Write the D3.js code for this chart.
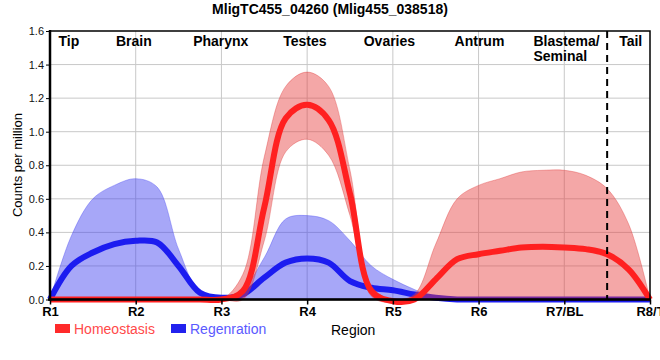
<!DOCTYPE html>
<html><head><meta charset="utf-8">
<script src="https://cdn.jsdelivr.net/npm/d3@7"></script>
<style>
body{margin:0;background:#fff;}
text{font-family:"Liberation Sans Narrow","Arial Narrow","Liberation Sans",Arial,sans-serif;}
</style></head>
<body><svg id="c" width="660" height="360"></svg>
<script>
const title = "MligTC455_04260 (Mlig455_038518)";
const regions = ["R1","R2","R3","R4","R5","R6","R7/BL","R8/T"];
const tissues = ["Tip","Brain","Pharynx","Testes","Ovaries","Antrum","Blastema/\nSeminal","Tail"];
const tissuePos = [0.1,0.77,1.67,2.72,3.66,4.72,5.64,6.64];
const yTicks = [0,0.2,0.4,0.6,0.8,1.0,1.2,1.4,1.6];
const xPos = [0,0.25,0.5,0.75,1,1.25,1.5,1.75,2,2.25,2.5,2.75,3,3.25,3.5,3.75,4,4.25,4.5,4.75,5,5.25,5.5,5.75,6,6.25,6.5,6.75,7];
const regMean = [0,0.2,0.28,0.33,0.35,0.34,0.2,0.04,0.01,0.03,0.13,0.22,0.245,0.22,0.11,0.07,0.055,0.03,0.01,0,0,0,0,0,0,0,0,0,0];
const regUpper = [0,0.38,0.6,0.68,0.72,0.67,0.3,0.04,0.01,0.06,0.25,0.48,0.5,0.47,0.35,0.2,0.12,0.06,0.01,0,0,0,0,0,0,0,0,0,0];
const regLower = [0,0,0,0,0,0,0,0,0,0,0,0,0,0,0,0,0,0,0,0,0,0,0,0,0,0,0,0,0];
const homMean = [0,0,0,0,0,0,0,0,0,0.05,0.55,1.08,1.16,1.07,0.63,0.05,-0.01,0,0.12,0.24,0.27,0.29,0.31,0.315,0.31,0.3,0.27,0.18,0];
const homUpper = [0,0,0,0,0,0,0,0,0,0.15,0.85,1.27,1.355,1.27,0.77,0.08,0,0.03,0.33,0.6,0.68,0.72,0.76,0.77,0.77,0.74,0.66,0.45,0];
const homLower = [0,0,0,0,0,0,0,0,0,0,0.35,0.88,0.955,0.86,0.5,0.02,-0.02,0,0,0,0,0,0,0,0,0,0,0,0];
const legend = [{name:"Homeostasis",color:"#ff2a2a",text:"#ff4a4a"},{name:"Regenration",color:"#2222ee",text:"#5a5aff"}];

const svg = d3.select("#c");
const x = d3.scaleLinear().domain([0,7]).range([50,650]);
const y = d3.scaleLinear().domain([0,1.6]).range([299.5,31]);

svg.append("text").attr("x",330).attr("y",14).attr("text-anchor","middle")
  .attr("font-size",14).attr("font-weight","bold").text(title);

// grid
svg.append("g").selectAll("line").data(yTicks.slice(1,-1)).join("line")
  .attr("x1",50).attr("x2",650).attr("y1",d=>y(d)).attr("y2",d=>y(d))
  .attr("stroke","#c8c8c8").attr("stroke-width",1);
svg.append("g").selectAll("line").data(d3.range(1,7)).join("line")
  .attr("y1",31).attr("y2",299.5).attr("x1",d=>x(d)).attr("x2",d=>x(d))
  .attr("stroke","#c8c8c8").attr("stroke-width",1);

const curve = d3.curveCatmullRom.alpha(0.5);
function band(up, lo){
  return d3.area().x((d,i)=>x(xPos[i])).y0((d,i)=>y(lo[i])).y1((d,i)=>y(up[i])).curve(curve)(xPos);
}
function line(v){
  return d3.line().x((d,i)=>x(xPos[i])).y((d,i)=>y(v[i])).curve(curve)(xPos);
}
// regeneration
svg.append("path").attr("d",band(regUpper,regLower)).attr("fill","rgba(60,60,240,0.45)")
  .attr("stroke","rgba(60,60,240,0.35)").attr("stroke-width",1);
svg.append("path").attr("d",line(regMean)).attr("fill","none").attr("stroke","#1c1cf0").attr("stroke-width",6);
// homeostasis
svg.append("path").attr("d",band(homUpper,homLower)).attr("fill","rgba(230,60,60,0.45)")
  .attr("stroke","rgba(220,50,50,0.35)").attr("stroke-width",1);
svg.append("path").attr("d",line(homMean)).attr("fill","none").attr("stroke","#ff2020").attr("stroke-width",6);

// dashed line
svg.append("line").attr("x1",x(6.5)).attr("x2",x(6.5)).attr("y1",31).attr("y2",299.5)
  .attr("stroke","#000").attr("stroke-width",2).attr("stroke-dasharray","7,5");

// frame
svg.append("rect").attr("x",50).attr("y",31).attr("width",600).attr("height",268.5)
  .attr("fill","none").attr("stroke","#000").attr("stroke-width",1.5);
svg.append("line").attr("x1",50).attr("x2",50).attr("y1",30).attr("y2",301).attr("stroke","#000").attr("stroke-width",2.5);
svg.append("line").attr("x1",48).attr("x2",651).attr("y1",299.5).attr("y2",299.5).attr("stroke","#000").attr("stroke-width",2.5);

// axes
const ya = d3.axisLeft(y).tickValues(yTicks).tickFormat(d3.format(".1f")).tickSize(4).tickPadding(2);
const gy = svg.append("g").attr("transform","translate(50,0)").call(ya);
gy.select(".domain").remove();
gy.selectAll("text").attr("font-size",11).attr("fill","#111").style("font-family","'Liberation Sans',Arial,sans-serif");
const xa = d3.axisBottom(x).tickValues(d3.range(0,8)).tickFormat(i=>regions[i]).tickSize(5).tickPadding(2);
const gx = svg.append("g").attr("transform","translate(0,299.5)").call(xa);
gx.select(".domain").remove();
gx.selectAll("line").attr("stroke-width",1.5);
gx.selectAll("text").attr("font-size",13).attr("font-weight","bold").attr("fill","#000");

// tissue labels
tissues.forEach((t,i)=>{
  const tx = svg.append("text").attr("x",x(tissuePos[i])).attr("y",46)
    .attr("font-size",14).attr("font-weight","bold");
  t.split("\n").forEach((s,j)=>tx.append("tspan").attr("x",x(tissuePos[i])).attr("dy",j?15:0).text(s));
});

// y label
svg.append("text").attr("transform","translate(22,165) rotate(-90)").attr("text-anchor","middle")
  .attr("font-size",13).style("font-family","'Liberation Sans',Arial,sans-serif").text("Counts per million");
// x label
svg.append("text").attr("x",331).attr("y",335).attr("font-size",14).text("Region");

// legend
const lx = [55,171];
legend.forEach((l,i)=>{
  svg.append("rect").attr("x",lx[i]).attr("y",324).attr("width",15).attr("height",9).attr("fill",l.color);
  svg.append("text").attr("x",lx[i]+19).attr("y",334).attr("font-size",14).attr("fill",l.text).text(l.name);
});
</script></body></html>
